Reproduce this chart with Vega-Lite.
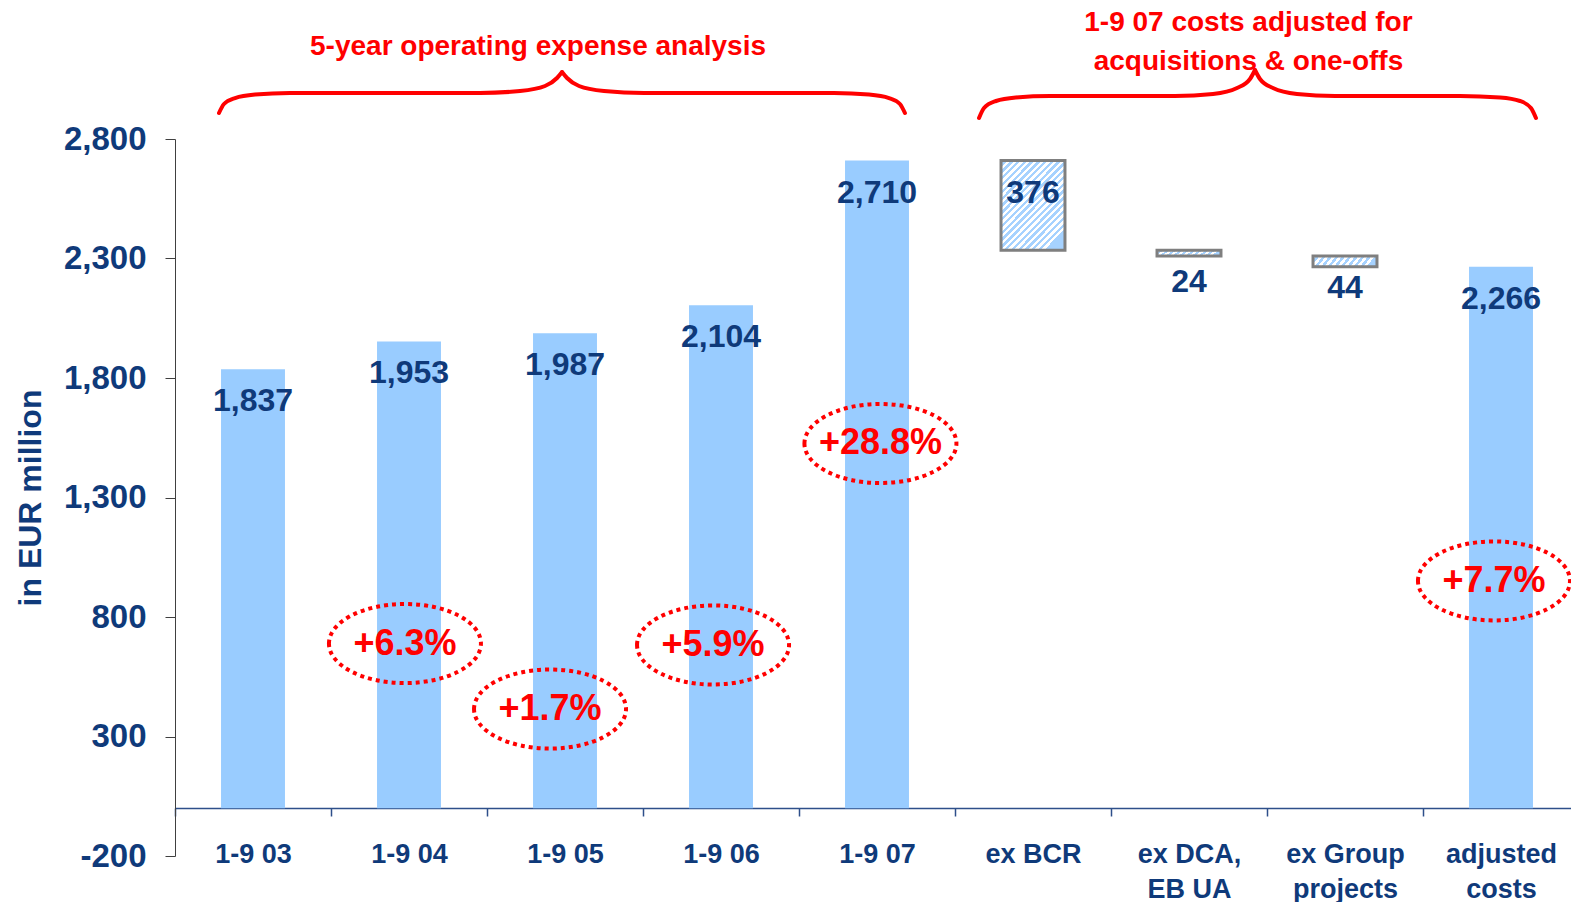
{
  "$schema": "https://vega.github.io/schema/vega-lite/v6.json",
  "width": 1396,
  "height": 717,
  "autosize": {"type": "none"},
  "padding": {"left": 175, "top": 139, "right": 0, "bottom": 46},
  "background": "white",
  "config": {
    "view": {"stroke": null},
    "font": "Liberation Sans",
    "axisY": {
      "labelExpr": "datum.value < 0 ? '-' + format(-datum.value, ',') : format(datum.value, ',')",
      "domainColor": "#404040",
      "tickColor": "#404040",
      "tickSize": 10,
      "labelFont": "Liberation Sans",
      "labelFontSize": 33,
      "labelFontWeight": "bold",
      "labelColor": "#0F3A7A",
      "labelPadding": 19,
      "titleFont": "Liberation Sans",
      "titleFontSize": 32,
      "titleFontWeight": "bold",
      "titleColor": "#0F3A7A",
      "titlePadding": 16,
      "grid": false
    }
  },
  "datasets": {
    "bars": [
      {"period": "1-9 03", "kind": "total", "start": 0, "end": 1837, "amount": 1837},
      {"period": "1-9 04", "kind": "total", "start": 0, "end": 1953, "amount": 1953},
      {"period": "1-9 05", "kind": "total", "start": 0, "end": 1987, "amount": 1987},
      {"period": "1-9 06", "kind": "total", "start": 0, "end": 2104, "amount": 2104},
      {"period": "1-9 07", "kind": "total", "start": 0, "end": 2710, "amount": 2710},
      {"period": "ex BCR", "kind": "tall", "start": 2334, "end": 2710, "amount": 376},
      {"period": "ex DCA, EB UA", "kind": "thin", "start": 2310, "end": 2334, "amount": 24},
      {"period": "ex Group projects", "kind": "thin", "start": 2266, "end": 2310, "amount": 44},
      {"period": "adjusted costs", "kind": "total", "start": 0, "end": 2266, "amount": 2266}
    ],
    "braces": [
      {"seg": "a1", "bx": 0.282, "by": 2908.8}, {"seg": "a1", "bx": 0.314, "by": 2946.4}, {"seg": "a1", "bx": 0.385, "by": 2971.5}, {"seg": "a1", "bx": 0.513, "by": 2986.2}, {"seg": "a1", "bx": 0.737, "by": 2992.5}, {"seg": "a1", "bx": 1.955, "by": 2992.5}, {"seg": "a1", "bx": 2.212, "by": 3000.8}, {"seg": "a1", "bx": 2.372, "by": 3021.8}, {"seg": "a1", "bx": 2.449, "by": 3055.2}, {"seg": "a1", "bx": 2.481, "by": 3080.3},
      {"seg": "a2", "bx": 2.481, "by": 3080.3}, {"seg": "a2", "bx": 2.513, "by": 3055.2}, {"seg": "a2", "bx": 2.590, "by": 3021.8}, {"seg": "a2", "bx": 2.750, "by": 3000.8}, {"seg": "a2", "bx": 3.006, "by": 2992.5}, {"seg": "a2", "bx": 4.224, "by": 2992.5}, {"seg": "a2", "bx": 4.449, "by": 2986.2}, {"seg": "a2", "bx": 4.577, "by": 2971.5}, {"seg": "a2", "bx": 4.647, "by": 2946.4}, {"seg": "a2", "bx": 4.679, "by": 2908.8},
      {"seg": "b1", "bx": 5.154, "by": 2887.9}, {"seg": "b1", "bx": 5.186, "by": 2929.7}, {"seg": "b1", "bx": 5.263, "by": 2959.0}, {"seg": "b1", "bx": 5.391, "by": 2973.6}, {"seg": "b1", "bx": 5.609, "by": 2979.9}, {"seg": "b1", "bx": 6.410, "by": 2979.9}, {"seg": "b1", "bx": 6.654, "by": 2988.3}, {"seg": "b1", "bx": 6.808, "by": 3013.4}, {"seg": "b1", "bx": 6.891, "by": 3051.0}, {"seg": "b1", "bx": 6.923, "by": 3088.7},
      {"seg": "b2", "bx": 6.923, "by": 3088.7}, {"seg": "b2", "bx": 6.955, "by": 3051.0}, {"seg": "b2", "bx": 7.038, "by": 3013.4}, {"seg": "b2", "bx": 7.192, "by": 2988.3}, {"seg": "b2", "bx": 7.436, "by": 2979.9}, {"seg": "b2", "bx": 8.237, "by": 2979.9}, {"seg": "b2", "bx": 8.494, "by": 2973.6}, {"seg": "b2", "bx": 8.622, "by": 2959.0}, {"seg": "b2", "bx": 8.692, "by": 2929.7}, {"seg": "b2", "bx": 8.724, "by": 2887.9}
    ],
    "titles": [
      {"tx": 2.327, "ty": 3185, "text": "5-year operating expense analysis"},
      {"tx": 6.881, "ty": 3285, "text": "1-9 07 costs adjusted for"},
      {"tx": 6.881, "ty": 3122, "text": "acquisitions & one-offs"}
    ],
    "growth": [
      {"gx": 1.474, "gy": 689, "label": "+6.3%"},
      {"gx": 2.404, "gy": 415, "label": "+1.7%"},
      {"gx": 3.449, "gy": 683, "label": "+5.9%"},
      {"gx": 4.522, "gy": 1526, "label": "+28.8%"},
      {"gx": 8.455, "gy": 951, "label": "+7.7%"}
    ]
  },
  "layer": [
    {
      "data": {"name": "bars"},
      "encoding": {
        "x": {
          "field": "period",
          "type": "nominal",
          "sort": null,
          "scale": {
            "domain": ["1-9 03", "1-9 04", "1-9 05", "1-9 06", "1-9 07", "ex BCR", "ex DCA, EB UA", "ex Group projects", "adjusted costs"],
            "range": [0, 1404],
            "paddingInner": 0,
            "paddingOuter": 0
          },
          "axis": {
            "title": null,
            "orient": "bottom",
            "offset": -48,
            "domainColor": "#2E4F8A",
            "domainWidth": 1.5,
            "tickColor": "#2E4F8A",
            "tickWidth": 1.5,
            "tickSize": 8,
            "tickBand": "extent",
            "labelFont": "Liberation Sans",
            "labelFontSize": 27,
            "labelFontWeight": "bold",
            "labelColor": "#0F3A7A",
            "labelPadding": 25,
            "labelLineHeight": 35,
            "labelAngle": 0,
            "labelOverlap": false,
            "labelLimit": 400,
            "grid": false,
            "labelExpr": "datum.label == 'ex DCA, EB UA' ? ['ex DCA,', 'EB UA'] : datum.label == 'ex Group projects' ? ['ex Group', 'projects'] : datum.label == 'adjusted costs' ? ['adjusted', 'costs'] : datum.label"
          }
        }
      },
      "layer": [
        {
          "transform": [{"filter": "datum.kind == 'total'"}],
          "mark": {"type": "bar", "color": "#99CCFF", "width": {"band": 0.41}},
          "encoding": {
            "y": {"field": "start", "type": "quantitative", "scale": {"domain": [-200, 2800], "nice": false, "zero": false}, "axis": {"title": "in EUR million", "values": [-200, 300, 800, 1300, 1800, 2300, 2800]}},
            "y2": {"field": "end"}
          }
        },
        {
          "transform": [{"filter": "datum.kind == 'tall'"}],
          "mark": {
            "type": "bar",
            "width": {"band": 0.41},
            "stroke": "#7F7F7F",
            "strokeWidth": 3,
            "fill": {
              "gradient": "linear", "x1": 0, "y1": 0, "x2": 0.72, "y2": 1,
              "stops": [
                {"offset": 0, "color": "#FFFFFF"}, {"offset": 0.025, "color": "#FFFFFF"}, {"offset": 0.025, "color": "#A6D2FF"}, {"offset": 0.05, "color": "#A6D2FF"},
                {"offset": 0.05, "color": "#FFFFFF"}, {"offset": 0.075, "color": "#FFFFFF"}, {"offset": 0.075, "color": "#A6D2FF"}, {"offset": 0.1, "color": "#A6D2FF"},
                {"offset": 0.1, "color": "#FFFFFF"}, {"offset": 0.125, "color": "#FFFFFF"}, {"offset": 0.125, "color": "#A6D2FF"}, {"offset": 0.15, "color": "#A6D2FF"},
                {"offset": 0.15, "color": "#FFFFFF"}, {"offset": 0.175, "color": "#FFFFFF"}, {"offset": 0.175, "color": "#A6D2FF"}, {"offset": 0.2, "color": "#A6D2FF"},
                {"offset": 0.2, "color": "#FFFFFF"}, {"offset": 0.225, "color": "#FFFFFF"}, {"offset": 0.225, "color": "#A6D2FF"}, {"offset": 0.25, "color": "#A6D2FF"},
                {"offset": 0.25, "color": "#FFFFFF"}, {"offset": 0.275, "color": "#FFFFFF"}, {"offset": 0.275, "color": "#A6D2FF"}, {"offset": 0.3, "color": "#A6D2FF"},
                {"offset": 0.3, "color": "#FFFFFF"}, {"offset": 0.325, "color": "#FFFFFF"}, {"offset": 0.325, "color": "#A6D2FF"}, {"offset": 0.35, "color": "#A6D2FF"},
                {"offset": 0.35, "color": "#FFFFFF"}, {"offset": 0.375, "color": "#FFFFFF"}, {"offset": 0.375, "color": "#A6D2FF"}, {"offset": 0.4, "color": "#A6D2FF"},
                {"offset": 0.4, "color": "#FFFFFF"}, {"offset": 0.425, "color": "#FFFFFF"}, {"offset": 0.425, "color": "#A6D2FF"}, {"offset": 0.45, "color": "#A6D2FF"},
                {"offset": 0.45, "color": "#FFFFFF"}, {"offset": 0.475, "color": "#FFFFFF"}, {"offset": 0.475, "color": "#A6D2FF"}, {"offset": 0.5, "color": "#A6D2FF"},
                {"offset": 0.5, "color": "#FFFFFF"}, {"offset": 0.525, "color": "#FFFFFF"}, {"offset": 0.525, "color": "#A6D2FF"}, {"offset": 0.55, "color": "#A6D2FF"},
                {"offset": 0.55, "color": "#FFFFFF"}, {"offset": 0.575, "color": "#FFFFFF"}, {"offset": 0.575, "color": "#A6D2FF"}, {"offset": 0.6, "color": "#A6D2FF"},
                {"offset": 0.6, "color": "#FFFFFF"}, {"offset": 0.625, "color": "#FFFFFF"}, {"offset": 0.625, "color": "#A6D2FF"}, {"offset": 0.65, "color": "#A6D2FF"},
                {"offset": 0.65, "color": "#FFFFFF"}, {"offset": 0.675, "color": "#FFFFFF"}, {"offset": 0.675, "color": "#A6D2FF"}, {"offset": 0.7, "color": "#A6D2FF"},
                {"offset": 0.7, "color": "#FFFFFF"}, {"offset": 0.725, "color": "#FFFFFF"}, {"offset": 0.725, "color": "#A6D2FF"}, {"offset": 0.75, "color": "#A6D2FF"},
                {"offset": 0.75, "color": "#FFFFFF"}, {"offset": 0.775, "color": "#FFFFFF"}, {"offset": 0.775, "color": "#A6D2FF"}, {"offset": 0.8, "color": "#A6D2FF"},
                {"offset": 0.8, "color": "#FFFFFF"}, {"offset": 0.825, "color": "#FFFFFF"}, {"offset": 0.825, "color": "#A6D2FF"}, {"offset": 0.85, "color": "#A6D2FF"},
                {"offset": 0.85, "color": "#FFFFFF"}, {"offset": 0.875, "color": "#FFFFFF"}, {"offset": 0.875, "color": "#A6D2FF"}, {"offset": 0.9, "color": "#A6D2FF"},
                {"offset": 0.9, "color": "#FFFFFF"}, {"offset": 0.925, "color": "#FFFFFF"}, {"offset": 0.925, "color": "#A6D2FF"}, {"offset": 0.95, "color": "#A6D2FF"},
                {"offset": 0.95, "color": "#FFFFFF"}, {"offset": 0.975, "color": "#FFFFFF"}, {"offset": 0.975, "color": "#A6D2FF"}, {"offset": 1, "color": "#A6D2FF"}
              ]
            }
          },
          "encoding": {
            "y": {"field": "start", "type": "quantitative", "scale": {"domain": [-200, 2800], "nice": false, "zero": false}, "axis": {"title": "in EUR million", "values": [-200, 300, 800, 1300, 1800, 2300, 2800]}},
            "y2": {"field": "end"}
          }
        },
        {
          "transform": [{"filter": "datum.kind == 'thin'"}],
          "mark": {
            "type": "bar",
            "width": {"band": 0.41},
            "stroke": "#7F7F7F",
            "strokeWidth": 3,
            "fill": {
              "gradient": "linear", "x1": 0, "y1": 0, "x2": 1, "y2": 0.13,
              "stops": [
                {"offset": 0, "color": "#FFFFFF"}, {"offset": 0.05, "color": "#FFFFFF"}, {"offset": 0.05, "color": "#A6D2FF"}, {"offset": 0.1, "color": "#A6D2FF"},
                {"offset": 0.1, "color": "#FFFFFF"}, {"offset": 0.15, "color": "#FFFFFF"}, {"offset": 0.15, "color": "#A6D2FF"}, {"offset": 0.2, "color": "#A6D2FF"},
                {"offset": 0.2, "color": "#FFFFFF"}, {"offset": 0.25, "color": "#FFFFFF"}, {"offset": 0.25, "color": "#A6D2FF"}, {"offset": 0.3, "color": "#A6D2FF"},
                {"offset": 0.3, "color": "#FFFFFF"}, {"offset": 0.35, "color": "#FFFFFF"}, {"offset": 0.35, "color": "#A6D2FF"}, {"offset": 0.4, "color": "#A6D2FF"},
                {"offset": 0.4, "color": "#FFFFFF"}, {"offset": 0.45, "color": "#FFFFFF"}, {"offset": 0.45, "color": "#A6D2FF"}, {"offset": 0.5, "color": "#A6D2FF"},
                {"offset": 0.5, "color": "#FFFFFF"}, {"offset": 0.55, "color": "#FFFFFF"}, {"offset": 0.55, "color": "#A6D2FF"}, {"offset": 0.6, "color": "#A6D2FF"},
                {"offset": 0.6, "color": "#FFFFFF"}, {"offset": 0.65, "color": "#FFFFFF"}, {"offset": 0.65, "color": "#A6D2FF"}, {"offset": 0.7, "color": "#A6D2FF"},
                {"offset": 0.7, "color": "#FFFFFF"}, {"offset": 0.75, "color": "#FFFFFF"}, {"offset": 0.75, "color": "#A6D2FF"}, {"offset": 0.8, "color": "#A6D2FF"},
                {"offset": 0.8, "color": "#FFFFFF"}, {"offset": 0.85, "color": "#FFFFFF"}, {"offset": 0.85, "color": "#A6D2FF"}, {"offset": 0.9, "color": "#A6D2FF"},
                {"offset": 0.9, "color": "#FFFFFF"}, {"offset": 0.95, "color": "#FFFFFF"}, {"offset": 0.95, "color": "#A6D2FF"}, {"offset": 1, "color": "#A6D2FF"}
              ]
            }
          },
          "encoding": {
            "y": {"field": "start", "type": "quantitative", "scale": {"domain": [-200, 2800], "nice": false, "zero": false}, "axis": {"title": "in EUR million", "values": [-200, 300, 800, 1300, 1800, 2300, 2800]}},
            "y2": {"field": "end"}
          }
        },
        {
          "mark": {"type": "text", "dy": 32, "fontSize": 32, "fontWeight": "bold", "color": "#0F3A7A", "baseline": "middle", "align": "center", "font": "Liberation Sans"},
          "encoding": {
            "y": {"field": "end", "type": "quantitative", "scale": {"domain": [-200, 2800], "nice": false, "zero": false}, "axis": {"title": "in EUR million", "values": [-200, 300, 800, 1300, 1800, 2300, 2800]}},
            "text": {"field": "amount", "type": "quantitative", "format": ","}
          }
        }
      ]
    },
    {
      "layer": [
        {
          "data": {"name": "braces"},
          "mark": {"type": "line", "interpolate": "monotone", "color": "#FF0000", "strokeWidth": 4, "strokeCap": "round"},
          "encoding": {
            "x": {"field": "bx", "type": "quantitative", "scale": {"domain": [0, 9], "range": [0, 1404], "nice": false, "zero": false}, "axis": null},
            "y": {"field": "by", "type": "quantitative", "scale": {"domain": [-200, 2800], "nice": false, "zero": false}, "axis": {"title": "in EUR million", "values": [-200, 300, 800, 1300, 1800, 2300, 2800]}},
            "detail": {"field": "seg", "type": "nominal"}
          }
        },
        {
          "data": {"name": "titles"},
          "mark": {"type": "text", "fontSize": 28, "fontWeight": "bold", "color": "#FF0000", "baseline": "middle", "align": "center", "font": "Liberation Sans"},
          "encoding": {
            "x": {"field": "tx", "type": "quantitative", "scale": {"domain": [0, 9], "range": [0, 1404], "nice": false, "zero": false}, "axis": null},
            "y": {"field": "ty", "type": "quantitative", "scale": {"domain": [-200, 2800], "nice": false, "zero": false}, "axis": {"title": "in EUR million", "values": [-200, 300, 800, 1300, 1800, 2300, 2800]}},
            "text": {"field": "text", "type": "nominal"}
          }
        },
        {
          "data": {"name": "growth"},
          "mark": {
            "type": "point",
            "shape": "M-1,0C-1,-0.287,-0.552,-0.52,0,-0.52C0.552,-0.52,1,-0.287,1,0C1,0.287,0.552,0.52,0,0.52C-0.552,0.52,-1,0.287,-1,0Z",
            "size": 23104,
            "filled": false,
            "opacity": 1,
            "stroke": "#FF0000",
            "strokeWidth": 4,
            "strokeDash": [4, 4]
          },
          "encoding": {
            "x": {"field": "gx", "type": "quantitative", "scale": {"domain": [0, 9], "range": [0, 1404], "nice": false, "zero": false}, "axis": null},
            "y": {"field": "gy", "type": "quantitative", "scale": {"domain": [-200, 2800], "nice": false, "zero": false}, "axis": {"title": "in EUR million", "values": [-200, 300, 800, 1300, 1800, 2300, 2800]}}
          }
        },
        {
          "data": {"name": "growth"},
          "mark": {"type": "text", "fontSize": 36, "fontWeight": "bold", "color": "#FF0000", "baseline": "middle", "align": "center", "font": "Liberation Sans"},
          "encoding": {
            "x": {"field": "gx", "type": "quantitative", "scale": {"domain": [0, 9], "range": [0, 1404], "nice": false, "zero": false}, "axis": null},
            "y": {"field": "gy", "type": "quantitative", "scale": {"domain": [-200, 2800], "nice": false, "zero": false}, "axis": {"title": "in EUR million", "values": [-200, 300, 800, 1300, 1800, 2300, 2800]}},
            "text": {"field": "label", "type": "nominal"}
          }
        }
      ]
    }
  ],
  "resolve": {"scale": {"x": "independent"}, "axis": {"x": "independent"}}
}
